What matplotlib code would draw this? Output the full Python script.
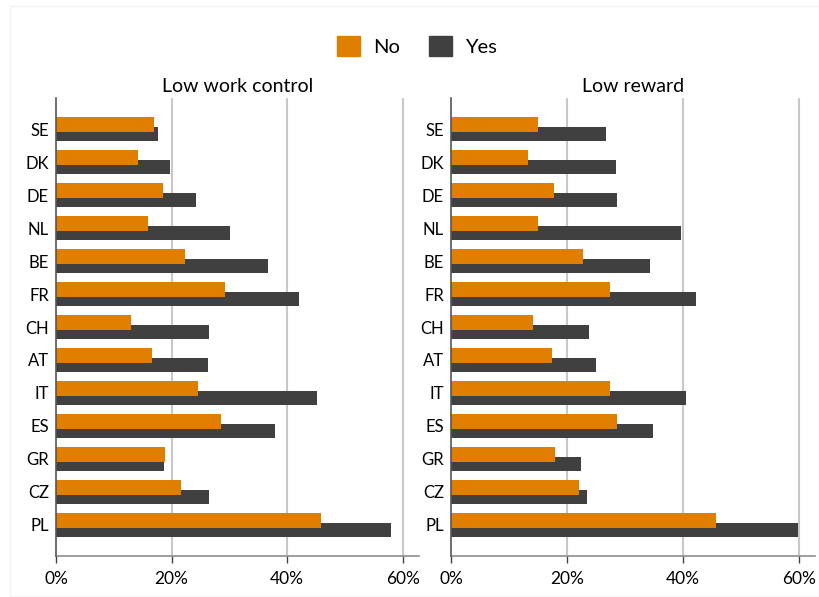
import matplotlib
matplotlib.use("Agg")
import matplotlib.pyplot as plt
from matplotlib.patches import Patch, Rectangle
from matplotlib.ticker import FuncFormatter

plt.rcParams['font.family'] = ['Lato', 'DejaVu Sans']

countries = ["SE", "DK", "DE", "NL", "BE", "FR", "CH", "AT", "IT", "ES", "GR", "CZ", "PL"]

work_no = [17.0, 14.2, 18.5, 15.9, 22.3, 29.3, 12.9, 16.6, 24.6, 28.5, 18.9, 21.6, 45.8]
work_yes = [17.6, 19.8, 24.2, 30.1, 36.7, 42.0, 26.5, 26.3, 45.2, 37.9, 18.7, 26.5, 58.0]

reward_no = [15.0, 13.2, 17.7, 15.0, 22.8, 27.4, 14.1, 17.5, 27.5, 28.7, 18.0, 22.0, 45.7]
reward_yes = [26.8, 28.4, 28.7, 39.7, 34.4, 42.3, 23.8, 25.1, 40.5, 34.8, 22.5, 23.4, 59.8]

titles = ["Low work control", "Low reward"]
series_names = ["No", "Yes"]
xticks = [0, 20, 40, 60]

ORANGE = "#E07E00"
DARK = "#404040"

W, H = 819, 597
fig = plt.figure(figsize=(W / 100, H / 100), dpi=100)

# faint outer frame
fig.add_artist(Rectangle((10 / W, 1 - 596 / H), (W + 5 - 10) / W, (596 - 6) / H,
                         transform=fig.transFigure, fill=False,
                         edgecolor="#F3F3F3", linewidth=1.0))

panels = [
    (56, 419, work_no, work_yes, titles[0]),
    (451, 815, reward_no, reward_yes, titles[1]),
]

top_px, bot_px = 98, 556
xmax = 62.8
pos = list(range(len(countries)))
for x0, x1, no_vals, yes_vals, title in panels:
    ax = fig.add_axes([x0 / W, 1 - bot_px / H, (x1 - x0) / W, (bot_px - top_px) / H])
    ax.barh([p + 0.145 for p in pos], yes_vals, height=0.44, color=DARK, zorder=2)
    ax.barh([p - 0.145 for p in pos], no_vals, height=0.46, color=ORANGE, zorder=3)
    ax.set_xlim(0, xmax)
    ax.set_ylim(12.94, -0.94)
    ax.set_yticks(pos)
    ax.set_yticklabels(countries)
    ax.set_xticks(xticks)
    ax.xaxis.set_major_formatter(FuncFormatter(lambda v, _: f"{int(v)}%"))
    for g in xticks[1:]:
        ax.axvline(g, color="#C8C8C8", linewidth=1.5, zorder=1)
    for s in ["top", "right"]:
        ax.spines[s].set_visible(False)
    ax.spines["left"].set_color("#555555")
    ax.spines["left"].set_linewidth(1.2)
    ax.spines["left"].set_zorder(4)
    ax.spines["bottom"].set_color("#8C8C8C")
    ax.spines["bottom"].set_linewidth(1.2)
    ax.tick_params(axis="y", length=0, pad=5, labelsize=12, colors="black")
    ax.tick_params(axis="x", length=5, width=1, color="#404040", pad=6, labelsize=12.5)
    ax.set_title(title, fontsize=14, pad=4)

handles = [Patch(facecolor=ORANGE, edgecolor=ORANGE), Patch(facecolor=DARK, edgecolor=DARK)]
fig.legend(handles, series_names, loc="center", bbox_to_anchor=(417 / W, 1 - 46 / H), ncol=2,
           frameon=False, fontsize=14.5, handlelength=1.15, handleheight=1.15,
           columnspacing=1.4, handletextpad=0.65)

fig.savefig("out.png", dpi=100, facecolor="white")
